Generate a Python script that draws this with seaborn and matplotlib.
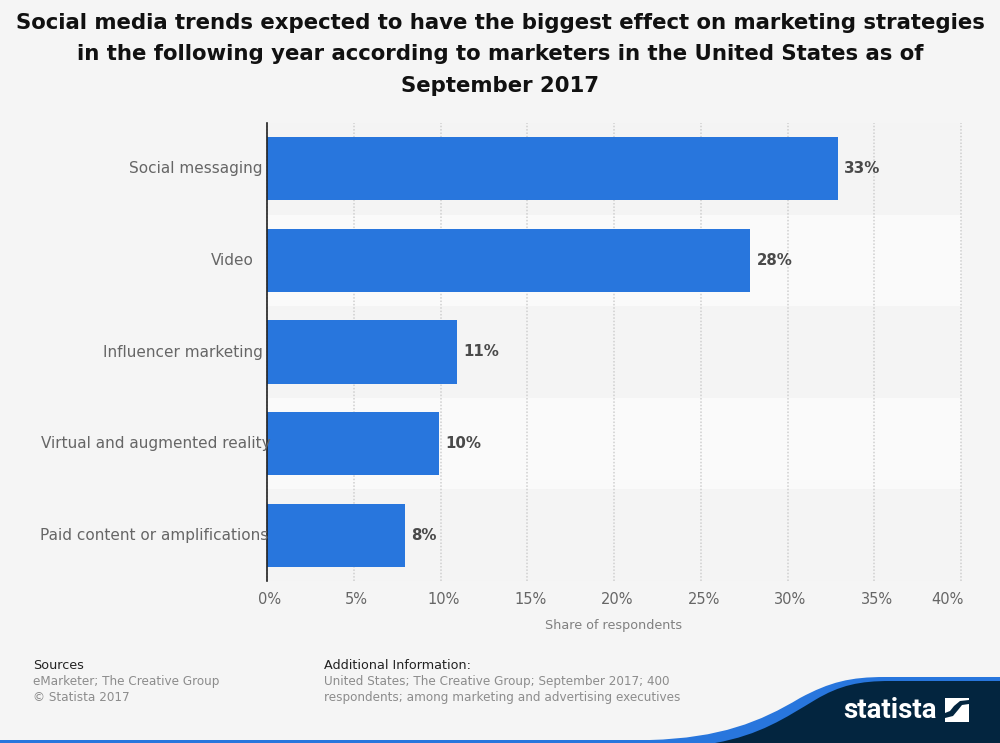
import numpy as np
import pandas as pd
import matplotlib
matplotlib.use('Agg')
import matplotlib.pyplot as plt
from matplotlib.patches import PathPatch, Polygon, Rectangle
from matplotlib.path import Path
from matplotlib.transforms import blended_transform_factory, ScaledTranslation
import seaborn as sns

categories = ['Social messaging', 'Video', 'Influencer marketing',
              'Virtual and augmented reality', 'Paid content or amplifications']
shares = [32.9, 27.85, 10.95, 9.9, 7.95]
x_ticks = [0, 5, 10, 15, 20, 25, 30, 35, 40]

title = ('Social media trends expected to have the biggest effect on marketing strategies\n'
         'in the following year according to marketers in the United States as of\n'
         'September 2017')

BG = '#f5f5f5'
BLUE = '#2876dd'
NAVY = '#03253f'

sns.set_theme(style='white')
plt.rcParams['font.family'] = ['DejaVu Sans']

df = pd.DataFrame({'trend': categories, 'share': shares})

W, H = 1000, 743
fig = plt.figure(figsize=(W / 100, H / 100), dpi=100, facecolor=BG)
ax = fig.add_axes([267 / W, 1 - 581 / H, (961 - 267) / W, (581 - 123) / H], facecolor=BG)

# alternating bands behind the bars
for i in range(len(categories)):
    ax.axhspan(i - 0.5, i + 0.5, color='#f4f4f4' if i % 2 == 0 else '#fafafa', lw=0, zorder=0)

sns.barplot(data=df, y='trend', x='share', color=BLUE, saturation=1, width=0.69,
            orient='h', linewidth=0, ax=ax, zorder=3)

ax.set_xlim(0, 40)
ax.set_ylim(len(categories) - 0.5, -0.5)
ax.set_xticks(x_ticks)
ax.set_xticklabels([f'{t}%' for t in x_ticks], color='#666666', fontsize=10.5)
ax.tick_params(axis='x', length=0, pad=8)
ax.tick_params(axis='y', length=0)
ax.grid(axis='x', color='#cfcfcf', linestyle=(0, (1, 1.2)), linewidth=1.1)
for line in ax.get_xgridlines():
    line.set_zorder(1)
    line.set_clip_on(False)

# x labels sit 3px right of their gridline, the last one ends near the edge
shift = ScaledTranslation(3 / 100, 0, fig.dpi_scale_trans)
for lab in ax.get_xticklabels():
    lab.set_transform(lab.get_transform() + shift)
ax.get_xticklabels()[-1].set_ha('right')
ax.get_xticklabels()[-1].set_x(40)

for side in ['top', 'right', 'bottom']:
    ax.spines[side].set_visible(False)
ax.spines['left'].set_color('#222222')
ax.spines['left'].set_linewidth(1.2)
ax.spines['left'].set_zorder(5)

ax.set_ylabel('')
ax.set_xlabel('Share of respondents', color='#808080', fontsize=9.2)
ax.xaxis.set_label_coords((614 - 267) / (961 - 267), -(619 - 581) / (581 - 123))

# category labels sit unevenly in the original, left edges
label_left = [129, 211, 103, 41, 40]
ax.set_yticklabels([])
label_trans = blended_transform_factory(fig.transFigure, ax.transData)
for i, (cat, left) in enumerate(zip(categories, label_left)):
    ax.text(left / W, i, cat, transform=label_trans, ha='left', va='center',
            color='#666666', fontsize=11, zorder=6, clip_on=False)

for i, v in enumerate(shares):
    ax.annotate(f'{v:.0f}%', (v, i), xytext=(4.5, 0), textcoords='offset points', va='center',
                ha='left', color='#4a4a4a', fontsize=10.8, fontweight='bold', zorder=6)

fig.text(500 / W, 1 - 54.5 / H, title, ha='center', va='center', fontsize=15.35, fontweight='bold',
         color='#111111', linespacing=1.69)

# footer
fig.text(33 / W, 1 - 665.5 / H, 'Sources', fontsize=9.15, color='#222222', va='center')
fig.text(33 / W, 1 - 681.5 / H, 'eMarketer; The Creative Group', fontsize=8.65, color='#8c8c8c', va='center')
fig.text(33 / W, 1 - 697.5 / H, '© Statista 2017', fontsize=8.65, color='#8c8c8c', va='center')
fig.text(324 / W, 1 - 665.5 / H, 'Additional Information:', fontsize=9.15, color='#222222', va='center')
fig.text(324 / W, 1 - 681.5 / H, 'United States; The Creative Group; September 2017; 400', fontsize=8.65,
         color='#8c8c8c', va='center')
fig.text(324 / W, 1 - 697.5 / H, 'respondents; among marketing and advertising executives', fontsize=8.65,
         color='#8c8c8c', va='center')

# logo swoosh, full-figure pixel overlay
ov = fig.add_axes([0, 0, 1, 1], facecolor='none')
ov.set_xlim(0, W)
ov.set_ylim(H, 0)
ov.axis('off')
ov.add_patch(Rectangle((0, 740), 1000, 3, color=BLUE, lw=0))

C4, L2 = Path.CURVE4, Path.LINETO
blue_path = Path([(650, 740), (720, 738), (760, 722), (800, 698), (830, 682), (850, 677), (885, 677),
                  (1000, 677), (1000, 743), (650, 743), (650, 740)],
                 [Path.MOVETO, C4, C4, C4, C4, C4, C4, L2, L2, L2, Path.CLOSEPOLY])
navy_path = Path([(715, 743), (760, 735), (785, 718), (815, 700), (840, 685), (860, 681), (890, 681),
                  (1000, 681), (1000, 743), (715, 743)],
                 [Path.MOVETO, C4, C4, C4, C4, C4, C4, L2, L2, Path.CLOSEPOLY])
ov.add_patch(PathPatch(blue_path, facecolor=BLUE, lw=0))
ov.add_patch(PathPatch(navy_path, facecolor=NAVY, lw=0))

ov.text(843, 710, 'statista', color='white', fontsize=20, fontweight='bold',
        family='Roboto', va='center', ha='left', stretch='condensed')
ov.add_patch(Polygon([(945, 698), (969, 698), (969, 700), (960, 701), (954, 706), (950, 711), (945, 713)],
                     closed=True, color='white', lw=0))
ov.add_patch(Polygon([(969, 704), (969, 722), (945, 722), (945, 718), (953, 716), (958, 710), (962, 705)],
                     closed=True, color='white', lw=0))

fig.savefig('out.png', dpi=100, facecolor=BG)
